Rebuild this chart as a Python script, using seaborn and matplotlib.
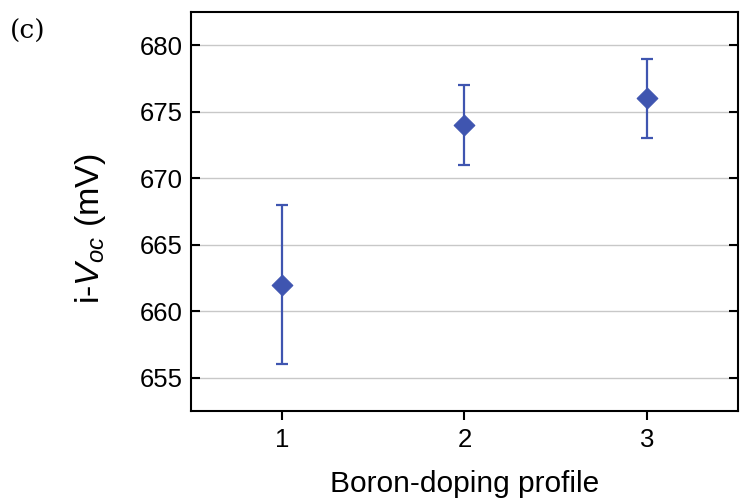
import matplotlib
matplotlib.use("Agg")
import matplotlib.pyplot as plt
import seaborn as sns
import pandas as pd

# Implied open-circuit voltage per boron-doping profile
profiles = [1, 2, 3]
voc_mean = [662, 674, 676]
voc_err = [6, 3, 3]

sns.set_theme(style="white")
plt.rcParams["font.family"] = ["Liberation Sans", "DejaVu Sans"]
plt.rcParams["mathtext.fontset"] = "custom"
plt.rcParams["mathtext.it"] = "Liberation Sans:italic"
plt.rcParams["mathtext.rm"] = "Liberation Sans"
plt.rcParams["text.color"] = "black"
plt.rcParams["axes.labelcolor"] = "black"

df = pd.DataFrame({"profile": profiles, "voc": voc_mean, "err": voc_err})

fig = plt.figure(figsize=(7.4, 4.98), dpi=100)
ax = fig.add_axes([191 / 740, 1 - 411 / 498, (738 - 191) / 740, (411 - 12) / 498])

color = "#3f55b0"
ax.errorbar(df["profile"], df["voc"], yerr=df["err"], fmt="none",
            ecolor=color, elinewidth=1.6, capsize=4, capthick=1.6, zorder=3)
sns.scatterplot(data=df, x="profile", y="voc", marker="D", s=110,
                color=color, edgecolor=color, ax=ax, zorder=4, legend=False)

ax.set_xlim(0.5, 3.5)
ax.set_ylim(652.5, 682.5)
ax.set_xticks(profiles)
ax.set_yticks([655, 660, 665, 670, 675, 680])
ax.yaxis.grid(True, color="#c8c8c8", linewidth=1)
ax.xaxis.grid(False)
ax.set_axisbelow(True)

for s in ax.spines.values():
    s.set_color("black")
    s.set_linewidth(1.5)

ax.tick_params(axis="y", direction="in", length=6.5, width=1.5, left=True,
               right=True, labelsize=18.5, pad=6, colors="black")
ax.tick_params(axis="x", direction="out", length=6.5, width=1.5, bottom=True,
               top=False, labelsize=18.5, pad=6, colors="black")

ax.set_xlabel("Boron-doping profile", fontsize=21.5, labelpad=13)
ax.set_ylabel("i-$V_{oc}$ (mV)", fontsize=24.5, labelpad=23)
ax.yaxis.label.set_y(0.457)

fig.text(10 / 740, 1 - 31 / 498, "(c)", fontsize=19, family="DejaVu Serif",
         va="center", ha="left")

fig.savefig("out.png", dpi=100)
